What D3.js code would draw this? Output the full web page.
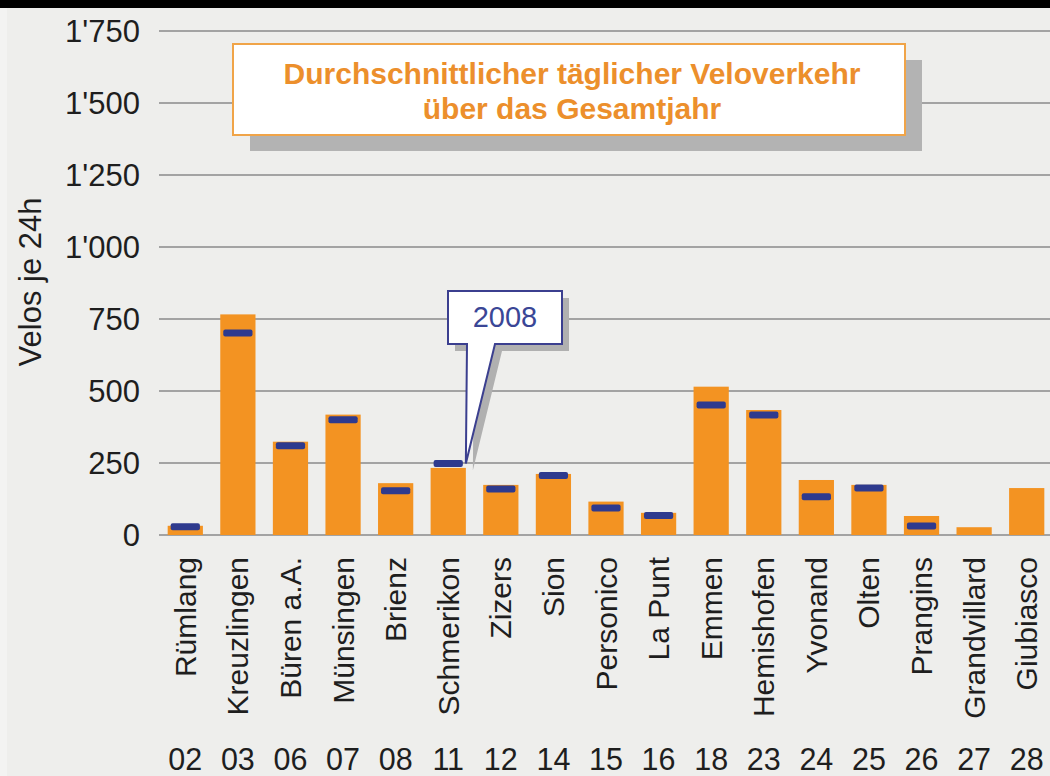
<!DOCTYPE html>
<html>
<head>
<meta charset="utf-8">
<script src="https://cdn.jsdelivr.net/npm/d3@7"></script>
<style>
  html, body { margin: 0; padding: 0; background: #eeeeec; }
  svg { display: block; }
  text { font-family: "Liberation Sans", Arial, sans-serif; }
</style>
</head>
<body>
<svg id="chart" width="1050" height="776"></svg>
<script>
const categories = ["Rümlang","Kreuzlingen","Büren a.A.","Münsingen","Brienz","Schmerikon","Zizers","Sion","Personico","La Punt","Emmen","Hemishofen","Yvonand","Olten","Prangins","Grandvillard","Giubiasco"];
const codes = ["02","03","06","07","08","11","12","14","15","16","18","23","24","25","26","27","28"];
const annualValues = [32, 766, 324, 418, 180, 233, 174, 212, 116, 77, 515, 434, 191, 174, 66, 27, 163];
const values2008 = [29, 701, 310, 400, 154, 248, 160, 207, 94, 68, 451, 417, 133, 163, 31, null, null];
const yTicks = [0, 250, 500, 750, 1000, 1250, 1500, 1750];
const titleLines = ["Durchschnittlicher täglicher Veloverkehr", "über das Gesamtjahr"];
const yTitle = "Velos je 24h";
const calloutLabel = "2008";
const calloutCategory = "Schmerikon";

const svg = d3.select("#chart");
const W = 1050, H = 776;

svg.append("rect").attr("x", 0).attr("y", 0).attr("width", W).attr("height", H).attr("fill", "#eeeeec");
svg.append("rect").attr("x", 0).attr("y", 0).attr("width", 7).attr("height", H).attr("fill", "#f3f3f2");
svg.append("rect").attr("x", 0).attr("y", 0).attr("width", W).attr("height", 8).attr("fill", "#000");

const x = d3.scaleBand().domain(categories).range([159, 1053]).paddingInner(0.33).paddingOuter(0.165);
const y = d3.scaleLinear().domain([0, 1750]).range([535, 31]);

const fmt = v => d3.format(",")(v).replace(/,/g, "'");

// y axis tick labels
const yAxis = d3.axisLeft(y).tickValues(yTicks).tickFormat(fmt).tickSize(0).tickPadding(19);
const gAxis = svg.append("g").attr("transform", "translate(159,0)").call(yAxis);
gAxis.select(".domain").remove();
gAxis.selectAll("text").attr("font-size", 31).attr("fill", "#1e1e1e").attr("dy", "0.35em")
  .style("font-family", '"Liberation Sans", Arial, sans-serif');

// gridlines
svg.append("g").selectAll("line").data(yTicks).join("line")
  .attr("x1", 159).attr("x2", W)
  .attr("y1", d => y(d)).attr("y2", d => y(d))
  .attr("stroke", "#a3a3a3").attr("stroke-width", 2.2);

// y axis title
svg.append("text")
  .attr("transform", "translate(41,282) rotate(-90)")
  .attr("text-anchor", "middle")
  .attr("font-size", 31).attr("fill", "#1e1e1e")
  .text(yTitle);

// bars
svg.append("g").selectAll("rect").data(categories).join("rect")
  .attr("x", d => x(d))
  .attr("width", x.bandwidth())
  .attr("y", (d, i) => y(annualValues[i]))
  .attr("height", (d, i) => y(0) - y(annualValues[i]))
  .attr("fill", "#f39322");

// 2008 markers
const markerData = categories.map((c, i) => ({c, v: values2008[i]})).filter(d => d.v != null);
svg.append("g").selectAll("rect").data(markerData).join("rect")
  .attr("x", d => x(d.c) + 3)
  .attr("width", x.bandwidth() - 6)
  .attr("y", d => y(d.v) - 3.5)
  .attr("height", 7)
  .attr("rx", 2)
  .attr("fill", "#2e3a8e");

// x labels (rotated)
svg.append("g").selectAll("text").data(categories).join("text")
  .attr("transform", d => `translate(${x(d) + x.bandwidth() / 2},557) rotate(-90)`)
  .attr("text-anchor", "end")
  .attr("dy", "0.35em")
  .attr("font-size", 30).attr("fill", "#1e1e1e")
  .text(d => d);

// codes row
svg.append("g").selectAll("text").data(categories).join("text")
  .attr("x", d => x(d) + x.bandwidth() / 2)
  .attr("y", 770)
  .attr("text-anchor", "middle")
  .attr("font-size", 30.5).attr("fill", "#1e1e1e")
  .text((d, i) => codes[i]);

// title box
const tb = {x: 233, y: 44, w: 672, h: 91};
svg.append("rect").attr("x", tb.x + 17).attr("y", tb.y + 16).attr("width", tb.w).attr("height", tb.h).attr("fill", "#b3b3b3");
svg.append("rect").attr("x", tb.x).attr("y", tb.y).attr("width", tb.w).attr("height", tb.h)
  .attr("fill", "#ffffff").attr("stroke", "#f0a448").attr("stroke-width", 2);
svg.append("g").selectAll("text").data(titleLines).join("text")
  .attr("x", tb.x + tb.w / 2 + 3)
  .attr("y", (d, i) => 84 + i * 35)
  .attr("text-anchor", "middle")
  .attr("font-size", 30).attr("font-weight", "bold").attr("fill", "#ec8f2c")
  .text(d => d);

// callout
const tipX = x(calloutCategory) + x.bandwidth();
const tipY = y(values2008[categories.indexOf(calloutCategory)]);
const cb = {x: 448, y: 291, w: 114, h: 53};
const calloutPath = `M${cb.x},${cb.y} H${cb.x + cb.w} V${cb.y + cb.h} H495 L${tipX},${tipY} L467,${cb.y + cb.h} H${cb.x} Z`;
svg.append("path").attr("d", calloutPath).attr("transform", "translate(7,7)").attr("fill", "#b0b0b0");
svg.append("path").attr("d", calloutPath).attr("fill", "#ffffff").attr("stroke", "#3b3f8f").attr("stroke-width", 2).attr("stroke-linejoin", "miter");
svg.append("text")
  .attr("x", cb.x + cb.w / 2).attr("y", 327)
  .attr("text-anchor", "middle")
  .attr("font-size", 29).attr("fill", "#3a4696")
  .text(calloutLabel);
</script>
</body>
</html>
